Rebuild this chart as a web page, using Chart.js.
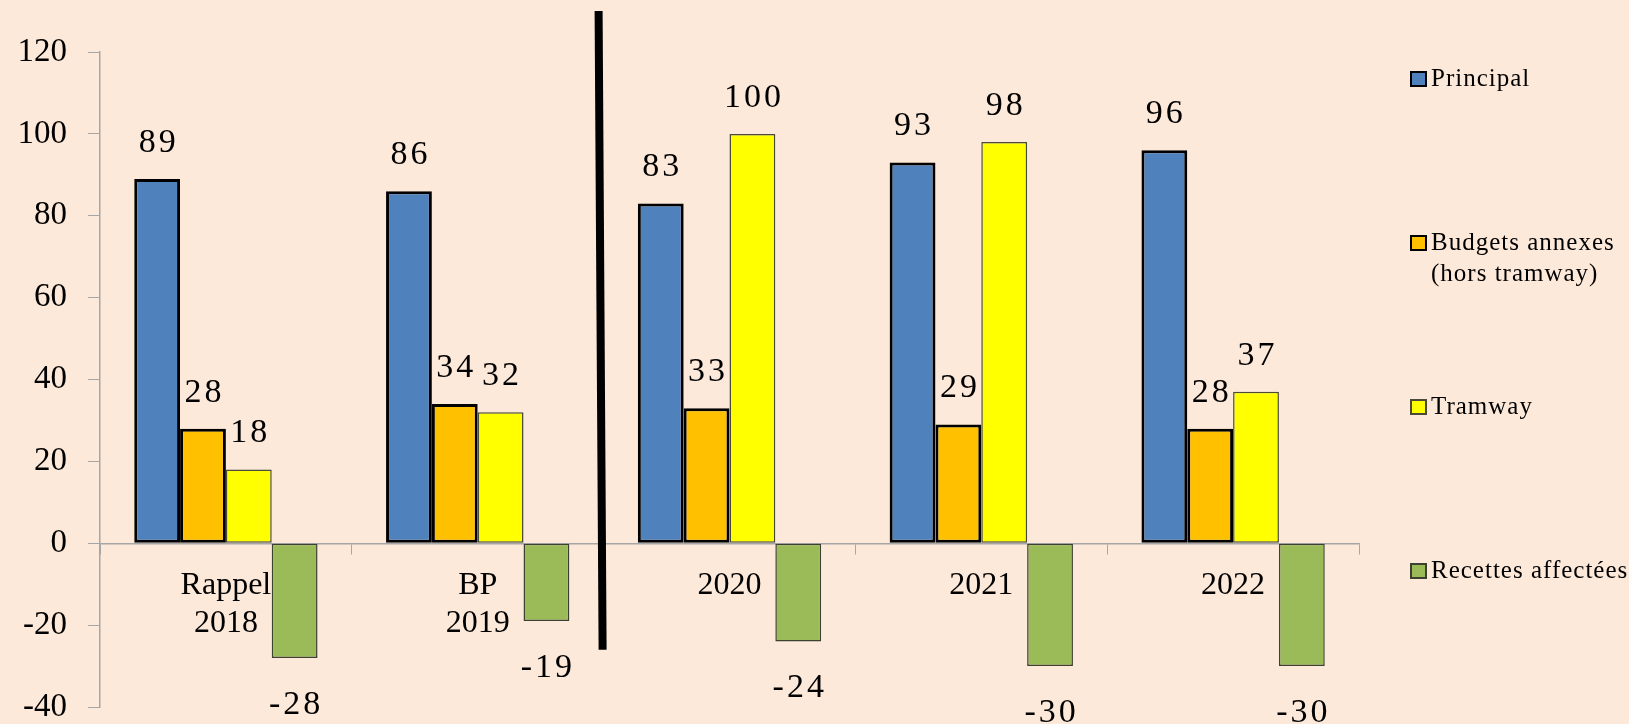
<!DOCTYPE html>
<html>
<head>
<meta charset="utf-8">
<title>Budgets</title>
<script src="https://cdn.jsdelivr.net/npm/chart.js@4.4.1/dist/chart.umd.min.js"></script>
<style>
  html, body { margin: 0; padding: 0; background: #fde9d9; }
  #wrap { position: relative; width: 1629px; height: 724px; }
</style>
</head>
<body>
<div id="wrap"><canvas id="myChart"></canvas></div>
<script>
'use strict';
let categories = [['Rappel', '2018'], ['BP', '2019'], '2020', '2021', '2022'];
let principal = [89, 86, 83, 93, 96];
let budgetsAnnexes = [28, 34, 33, 29, 28];
let tramway = [18, 32, 100, 98, 37];
let recettesAffectees = [-28, -19, -24, -30, -30];
let seriesNames = ['Principal', 'Budgets annexes (hors tramway)', 'Tramway', 'Recettes affectées'];
let legendLines = [['Principal'], ['Budgets annexes', '(hors tramway)'], ['Tramway'], ['Recettes affectées']];
let yTicks = [-40, -20, 0, 20, 40, 60, 80, 100, 120];

let serif = "'Liberation Serif', 'Times New Roman', 'DejaVu Serif', serif";
Chart.defaults.font.family = serif;
Chart.defaults.color = '#000';

// value labels above / below each bar
let barLabels = {
  id: 'barLabels',
  afterDatasetsDraw(chart) {
    let ctx = chart.ctx;
    ctx.save();
    ctx.font = '34px ' + serif;
    ctx.letterSpacing = '3px';
    ctx.fillStyle = '#000';
    ctx.textAlign = 'center';
    ctx.textBaseline = 'middle';
    chart.data.datasets.forEach(function (ds, i) {
      let meta = chart.getDatasetMeta(i);
      meta.data.forEach(function (bar, j) {
        let v = ds.data[j];
        let y = v >= 0 ? bar.y - 36 : bar.y + 47;
        ctx.fillText(String(v), bar.x + 1.5, y);
      });
    });
    ctx.restore();
  }
};

// thick separator between forecast and past + right side legend
let extras = {
  id: 'extras',
  afterDraw(chart) {
    let ctx = chart.ctx;
    let xs = chart.scales.x;
    let ys = chart.scales.y;
    let xm = (xs.getPixelForValue(1) + xs.getPixelForValue(2)) / 2;
    ctx.save();
    ctx.strokeStyle = '#000';
    ctx.lineWidth = 8;
    ctx.beginPath();
    ctx.moveTo(xm - 5, ys.getPixelForValue(130));
    ctx.lineTo(xm - 1, ys.getPixelForValue(-26));
    ctx.stroke();

    let rows = [79, 243, 407, 571];
    ctx.font = '25px ' + serif;
    ctx.letterSpacing = '1px';
    ctx.textBaseline = 'middle';
    ctx.textAlign = 'left';
    chart.data.datasets.forEach(function (ds, i) {
      let y = rows[i];
      ctx.fillStyle = ds.backgroundColor;
      ctx.fillRect(1411, y - 7, 15, 14);
      ctx.lineWidth = 2;
      ctx.strokeStyle = ds.borderColor;
      ctx.strokeRect(1411, y - 7, 15, 14);
      ctx.fillStyle = '#000';
      legendLines[i].forEach(function (line, k) {
        ctx.fillText(line, 1431, y + k * 31);
      });
    });
    ctx.restore();
  }
};

let ctx = document.getElementById('myChart').getContext('2d');
let myChart = new Chart(ctx, {
  type: 'bar',
  data: {
    labels: categories,
    datasets: [{
      label: seriesNames[0],
      data: principal,
      backgroundColor: '#4f81bd',
      borderColor: '#000',
      borderWidth: 3
    }, {
      label: seriesNames[1],
      data: budgetsAnnexes,
      backgroundColor: '#ffc000',
      borderColor: '#000',
      borderWidth: 3
    }, {
      label: seriesNames[2],
      data: tramway,
      backgroundColor: '#ffff00',
      borderColor: '#4a4a3a',
      borderWidth: 1.5
    }, {
      label: seriesNames[3],
      data: recettesAffectees,
      backgroundColor: '#9bbb59',
      borderColor: '#3c4030',
      borderWidth: 1.5
    }]
  },
  options: {
    responsive: true,
    maintainAspectRatio: false,
    animation: false,
    categoryPercentage: 0.728,
    barPercentage: 1,
    borderSkipped: false,
    layout: {
      padding: { top: 52, bottom: 17, left: 0, right: 270 }
    },
    plugins: {
      legend: { display: false },
      tooltip: { enabled: false }
    },
    scales: {
      x: {
        position: { y: 0 },
        grid: {
          offset: true,
          drawOnChartArea: false,
          tickLength: 10,
          color: '#a6a6a6'
        },
        border: { color: '#a6a6a6', width: 1.5 },
        ticks: {
          font: { size: 32 },
          padding: 13,
          maxRotation: 0,
          autoSkip: false
        }
      },
      y: {
        min: -40,
        max: 120,
        afterBuildTicks: function (scale) {
          scale.ticks = yTicks.map(function (v) { return { value: v }; });
        },
        afterFit: function (scale) {
          scale.width = 100;
          scale.paddingTop = 0;
          scale.paddingBottom = 0;
        },
        grid: {
          drawOnChartArea: false,
          tickLength: 12,
          color: '#a6a6a6'
        },
        border: { color: '#a6a6a6', width: 1.5 },
        ticks: {
          font: { size: 33 },
          padding: 21
        }
      }
    }
  },
  plugins: [barLabels, extras]
});
</script>
</body>
</html>
